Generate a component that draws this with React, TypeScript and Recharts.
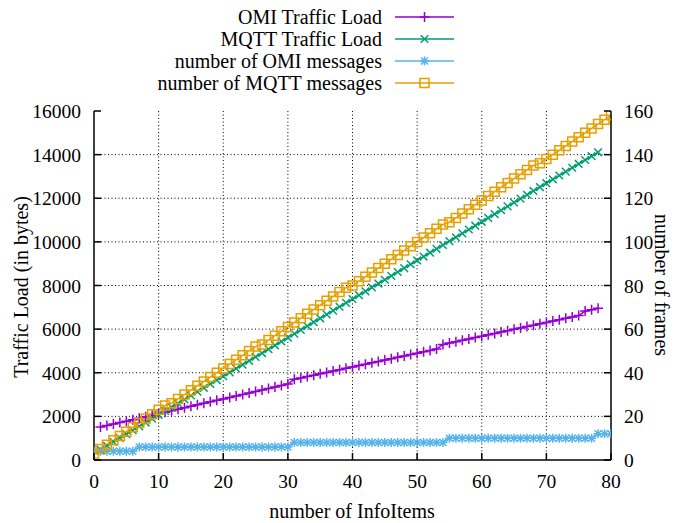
import React from 'react';
import { ComposedChart, Line, XAxis, YAxis, CartesianGrid } from 'recharts';

const W = 675;
const H = 523;
const FONT = '"Liberation Serif", "Times New Roman", serif';
const FS = 20;
const TFS = 19.5;

// plot box (page coordinates, body margin removed)
const PL = 94, PR = 611, PT = 111, PB = 460;

const xTicks = [0, 10, 20, 30, 40, 50, 60, 70, 80];
const leftTicks = [0, 2000, 4000, 6000, 8000, 10000, 12000, 14000, 16000];
const rightTicks = [0, 20, 40, 60, 80, 100, 120, 140, 160];

const seriesNames = ['OMI Traffic Load', 'MQTT Traffic Load', 'number of OMI messages', 'number of MQTT messages'];
const seriesColors = ['#9400d3', '#009e73', '#56b4e9', '#e69f00'];

// OMI Traffic Load (bytes), InfoItems 1..78
const omiTrafficStart = 1;
const omiTrafficLoad = [
  1510, 1578, 1646, 1714, 1782, 1850, 1918, 1986, 2054, 2122,
  2190, 2258, 2326, 2394, 2462, 2530, 2598, 2666, 2734, 2802,
  2870, 2938, 3006, 3074, 3142, 3210, 3278, 3346, 3414, 3482,
  3700, 3763, 3826, 3889, 3952, 4015, 4078, 4141, 4204, 4267,
  4330, 4393, 4456, 4519, 4582, 4645, 4708, 4771, 4834, 4897,
  4960, 5023, 5086, 5300, 5363, 5426, 5489, 5552, 5615, 5678,
  5741, 5804, 5867, 5930, 5993, 6056, 6119, 6182, 6245, 6308,
  6371, 6434, 6497, 6560, 6623, 6830, 6893, 6956,
];

// MQTT Traffic Load (bytes), InfoItems 1..78
const mqttTrafficStart = 1;
const mqttTrafficLoad = [
  477, 654, 831, 1008, 1185, 1362, 1539, 1716, 1893, 2070,
  2247, 2424, 2601, 2778, 2955, 3132, 3309, 3486, 3663, 3840,
  4017, 4194, 4371, 4548, 4725, 4902, 5079, 5256, 5433, 5610,
  5787, 5964, 6141, 6318, 6495, 6672, 6849, 7026, 7203, 7380,
  7557, 7734, 7911, 8088, 8265, 8442, 8619, 8796, 8973, 9150,
  9327, 9504, 9681, 9858, 10035, 10212, 10389, 10566, 10743, 10920,
  11097, 11274, 11451, 11628, 11805, 11982, 12159, 12336, 12513, 12690,
  12867, 13044, 13221, 13398, 13575, 13752, 13929, 14106,
];

// number of OMI messages (frames), InfoItems 0..80
const omiMessagesStart = 0;
const omiMessages = [
  4, 4, 4, 4, 4, 4, 4,
  6, 6, 6, 6, 6, 6, 6, 6, 6, 6, 6, 6, 6, 6, 6, 6, 6, 6, 6, 6, 6, 6, 6, 6,
  8, 8, 8, 8, 8, 8, 8, 8, 8, 8, 8, 8, 8, 8, 8, 8, 8, 8, 8, 8, 8, 8, 8, 8,
  10, 10, 10, 10, 10, 10, 10, 10, 10, 10, 10, 10, 10, 10, 10, 10, 10, 10, 10, 10, 10, 10, 10,
  12, 12, 12,
];

// number of MQTT messages (frames), InfoItems 0..80
const mqttMessagesStart = 0;
const mqttMessages = [
  3, 5, 7, 9, 11, 13, 15, 17, 19, 21,
  23, 25, 26, 28, 30, 32, 34, 36, 38, 40,
  42, 44, 46, 48, 50, 52, 53, 55, 57, 59,
  61, 63, 65, 67, 69, 71, 73, 75, 77, 79,
  80, 82, 84, 86, 88, 90, 92, 94, 96, 98,
  100, 102, 104, 106, 108, 109, 111, 113, 115, 117,
  119, 121, 123, 125, 127, 129, 131, 133, 135, 136,
  138, 140, 142, 144, 146, 148, 150, 152, 154, 156,
  158,
];

const data: any[] = [];
for (let x = 0; x <= 80; x++) {
  const row: any = { x };
  const a = x - omiTrafficStart;
  if (a >= 0 && a < omiTrafficLoad.length) row.omiTraffic = omiTrafficLoad[a];
  const b = x - mqttTrafficStart;
  if (b >= 0 && b < mqttTrafficLoad.length) row.mqttTraffic = mqttTrafficLoad[b];
  const c = x - omiMessagesStart;
  if (c >= 0 && c < omiMessages.length) row.omiMsg = omiMessages[c];
  const d = x - mqttMessagesStart;
  if (d >= 0 && d < mqttMessages.length) row.mqttMsg = mqttMessages[d];
  data.push(row);
}

const SW = 1.5;

function markerPath(kind: string, cx: number, cy: number) {
  if (kind === 'plus') {
    const s = 5;
    return `M${cx - s},${cy}H${cx + s}M${cx},${cy - s}V${cy + s}`;
  }
  if (kind === 'cross') {
    const s = 3.8;
    return `M${cx - s},${cy - s}L${cx + s},${cy + s}M${cx - s},${cy + s}L${cx + s},${cy - s}`;
  }
  if (kind === 'star') {
    const s = 4.5;
    const t = 3.5;
    return `M${cx - s},${cy}H${cx + s}M${cx},${cy - s}V${cy + s}M${cx - t},${cy - t}L${cx + t},${cy + t}M${cx - t},${cy + t}L${cx + t},${cy - t}`;
  }
  const s = 4.5;
  return `M${cx - s},${cy - s}H${cx + s}V${cy + s}H${cx - s}Z`;
}

const makeDot = (kind: string, color: string) => (p: any) => {
  const { cx, cy, index } = p;
  if (cx == null || cy == null || isNaN(cx) || isNaN(cy)) return <g key={`e-${kind}-${index}`} />;
  return (
    <path
      key={`d-${kind}-${index}`}
      d={markerPath(kind, cx, cy)}
      stroke={color}
      strokeWidth={SW}
      fill="none"
    />
  );
};

const LeftTick = (p: any) => {
  const { y, payload } = p;
  return (
    <g>
      <line x1={PL} x2={PL + 7} y1={y} y2={y} stroke="#000" strokeWidth={SW} />
      <text x={81} y={y} dy="0.36em" textAnchor="end" fontFamily={FONT} fontSize={TFS} fill="#000">
        {payload.value}
      </text>
    </g>
  );
};

const RightTick = (p: any) => {
  const { y, payload } = p;
  return (
    <g>
      <line x1={PR} x2={PR - 7} y1={y} y2={y} stroke="#000" strokeWidth={SW} />
      <text x={624} y={y} dy="0.36em" textAnchor="start" fontFamily={FONT} fontSize={TFS} fill="#000">
        {payload.value}
      </text>
    </g>
  );
};

const BottomTick = (p: any) => {
  const { x, payload } = p;
  return (
    <g>
      <line x1={x} x2={x} y1={PB} y2={PB - 7} stroke="#000" strokeWidth={SW} />
      <text x={x} y={481} dy="0.36em" textAnchor="middle" fontFamily={FONT} fontSize={TFS} fill="#000">
        {payload.value}
      </text>
    </g>
  );
};

const TopTick = (p: any) => {
  const { x } = p;
  return (
    <g>
      <line x1={x} x2={x} y1={PT} y2={PT + 7} stroke="#000" strokeWidth={SW} />
    </g>
  );
};

const legendRows = [0, 1, 2, 3];
const legendKinds = ['plus', 'cross', 'star', 'square'];

export default function App() {
  return (
    <div style={{ position: 'relative', width: W, height: H }}>
      <style>{'body{margin:0;}'}</style>
      <ComposedChart
        width={W}
        height={H}
        data={data}
        margin={{ top: PT, bottom: H - PB - 30, left: PL - 60, right: W - PR - 55 }}
      >
        <CartesianGrid
          yAxisId="left"
          xAxisId="bottom"
          stroke="#000"
          strokeDasharray="1 2.5"
          strokeWidth={1}
          horizontalValues={leftTicks.slice(1, -1)}
          verticalValues={xTicks.slice(1, -1)}
        />
        <XAxis
          xAxisId="bottom"
          type="number"
          dataKey="x"
          domain={[0, 80]}
          ticks={xTicks}
          interval={0}
          height={30}
          stroke="#000"
          strokeWidth={SW}
          tickLine={false}
          tick={<BottomTick />}
          allowDataOverflow
        />
        <XAxis
          xAxisId="top"
          orientation="top"
          type="number"
          dataKey="x"
          domain={[0, 80]}
          ticks={xTicks}
          interval={0}
          height={0}
          stroke="#000"
          strokeWidth={SW}
          tickLine={false}
          tick={<TopTick />}
        />
        <YAxis
          yAxisId="left"
          type="number"
          domain={[0, 16000]}
          ticks={leftTicks}
          interval={0}
          width={60}
          stroke="#000"
          strokeWidth={SW}
          tickLine={false}
          tick={<LeftTick />}
          allowDataOverflow
        />
        <YAxis
          yAxisId="right"
          orientation="right"
          type="number"
          domain={[0, 160]}
          ticks={rightTicks}
          interval={0}
          width={55}
          stroke="#000"
          strokeWidth={SW}
          tickLine={false}
          tick={<RightTick />}
          allowDataOverflow
        />
        <Line
          xAxisId="bottom"
          yAxisId="left"
          type="linear"
          dataKey="omiTraffic"
          name={seriesNames[0]}
          stroke={seriesColors[0]}
          strokeWidth={SW}
          dot={makeDot('plus', seriesColors[0])}
          activeDot={false}
          isAnimationActive={false}
        />
        <Line
          xAxisId="bottom"
          yAxisId="left"
          type="linear"
          dataKey="mqttTraffic"
          name={seriesNames[1]}
          stroke={seriesColors[1]}
          strokeWidth={SW}
          dot={makeDot('cross', seriesColors[1])}
          activeDot={false}
          isAnimationActive={false}
        />
        <Line
          xAxisId="bottom"
          yAxisId="right"
          type="linear"
          dataKey="omiMsg"
          name={seriesNames[2]}
          stroke={seriesColors[2]}
          strokeWidth={SW}
          dot={makeDot('star', seriesColors[2])}
          activeDot={false}
          isAnimationActive={false}
        />
        <Line
          xAxisId="bottom"
          yAxisId="right"
          type="linear"
          dataKey="mqttMsg"
          name={seriesNames[3]}
          stroke={seriesColors[3]}
          strokeWidth={SW}
          dot={makeDot('square', seriesColors[3])}
          activeDot={false}
          isAnimationActive={false}
        />
      </ComposedChart>
      <svg
        width={W}
        height={H}
        style={{ position: 'absolute', left: 0, top: 0, pointerEvents: 'none' }}
      >
        <text
          transform="translate(21,287) rotate(-90)"
          textAnchor="middle"
          dy="0.36em"
          fontFamily={FONT}
          fontSize={FS}
          fill="#000"
        >
          Traffic Load (in bytes)
        </text>
        <text
          transform="translate(662,285) rotate(90)"
          textAnchor="middle"
          dy="0.36em"
          fontFamily={FONT}
          fontSize={FS}
          fill="#000"
        >
          number of frames
        </text>
        <text x={352} y={511} dy="0.36em" textAnchor="middle" fontFamily={FONT} fontSize={FS} fill="#000">
          number of InfoItems
        </text>
        {legendRows.map((i) => {
          const y = 17 + i * 22;
          return (
            <g key={`lg-${i}`}>
              <text x={382} y={y} dy="0.36em" textAnchor="end" fontFamily={FONT} fontSize={FS} fill="#000">
                {seriesNames[i]}
              </text>
              <line x1={395} x2={454} y1={y} y2={y} stroke={seriesColors[i]} strokeWidth={SW} />
              <path d={markerPath(legendKinds[i], 424.5, y)} stroke={seriesColors[i]} strokeWidth={SW} fill="none" />
            </g>
          );
        })}
      </svg>
    </div>
  );
}
